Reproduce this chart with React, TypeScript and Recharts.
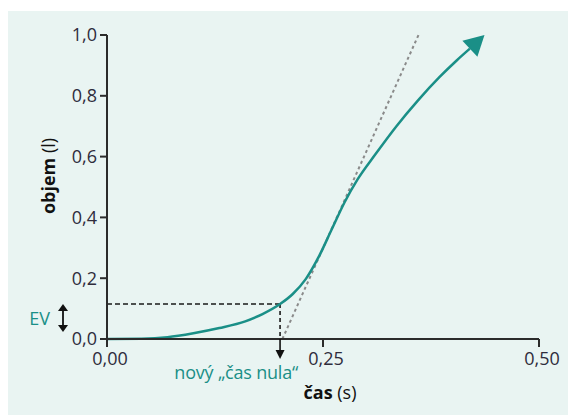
import React from 'react';
import {
  LineChart,
  Line,
  XAxis,
  YAxis,
  ReferenceLine,
  ReferenceDot,
  ReferenceArea,
  Label,
} from 'recharts';

// expired volume curve (time in s, volume in l)
const TIME = [0, 0.04, 0.07, 0.1, 0.13, 0.16, 0.18, 0.2003, 0.215, 0.23, 0.245, 0.26, 0.275, 0.29, 0.31, 0.335, 0.36, 0.385, 0.405, 0.42];
const VOLUME = [0, 0.001, 0.006, 0.019, 0.036, 0.058, 0.082, 0.115, 0.148, 0.197, 0.27, 0.36, 0.45, 0.525, 0.605, 0.7, 0.785, 0.862, 0.917, 0.955];

// back-extrapolation line through the steepest part of the curve
const TANGENT_T = [0.203, 0.3605];
const TANGENT_V = [0, 1];

const EV = 0.115; // extrapolated volume
const T_ZERO = 0.2003; // new "time zero"

const X_TICKS = [0, 0.25, 0.5];
const Y_TICKS = [0, 0.2, 0.4, 0.6, 0.8, 1.0];

const TEAL = '#1a8f87';
const INK = '#2f2c3c';
const AXIS = '#2b2b2b';
const FONT = '"Open Sans", sans-serif';

const data = TIME.map((t, i) => ({ t, v: VOLUME[i] }));
const last = data[data.length - 1];

const ArrowHead = ({ cx, cy }: any) => {
  const a = (-43 * Math.PI) / 180;
  const len = 20;
  const half = 11;
  const tip = [cx + len * Math.cos(a), cy + len * Math.sin(a)];
  const p1 = [cx - half * Math.sin(a), cy + half * Math.cos(a)];
  const p2 = [cx + half * Math.sin(a), cy - half * Math.cos(a)];
  return <polygon points={`${tip.join(',')} ${p1.join(',')} ${p2.join(',')}`} fill={TEAL} />;
};

const TimeZeroMarker = ({ cx, cy }: any) => (
  <g>
    <line x1={cx} y1={cy} x2={cx} y2={cy + 13} stroke="#111" strokeWidth={1.6} />
    <polygon points={`${cx - 4.5},${cy + 11} ${cx + 4.5},${cy + 11} ${cx},${cy + 20}`} fill="#111" />
    <text x={cx + 18} y={cy + 40} textAnchor="end" fill={TEAL} fontSize={18} fontFamily={FONT} letterSpacing={-0.2}>
      nový „čas nula“
    </text>
  </g>
);

const EvMarker = ({ x, y, height }: any) => {
  const ax = x - 44;
  const top = y;
  const bottom = y + height - 7;
  return (
    <g>
      <line x1={ax} y1={top + 4} x2={ax} y2={bottom - 4} stroke="#111" strokeWidth={1.8} />
      <polygon points={`${ax - 5},${top + 7} ${ax + 5},${top + 7} ${ax},${top}`} fill="#111" />
      <polygon points={`${ax - 5},${bottom - 7} ${ax + 5},${bottom - 7} ${ax},${bottom}`} fill="#111" />
      <text x={x - 57} y={y + height / 2 + 3} textAnchor="end" fill={TEAL} fontSize={18} fontFamily={FONT}>
        EV
      </text>
    </g>
  );
};

const XTitle = ({ viewBox }: any) => (
  <text x={viewBox.x + viewBox.width / 2 + 7} y={viewBox.y + 60} textAnchor="middle" fill="#111" fontSize={18} fontFamily={FONT}>
    <tspan fontWeight="bold">čas</tspan> (s)
  </text>
);

const YTitle = ({ viewBox }: any) => {
  const x = 47;
  const y = viewBox.y + 141;
  return (
    <text x={x} y={y} transform={`rotate(-90, ${x}, ${y})`} textAnchor="middle" fill="#111" fontSize={18} fontFamily={FONT}>
      <tspan fontWeight="bold">objem</tspan> (l)
    </text>
  );
};

const tickStyle = { fill: INK, fontSize: 18, fontFamily: FONT };

export default function App() {
  return (
    <div style={{ position: 'absolute', left: 8, top: 11, width: 560, height: 404, background: '#e9f4f2' }}>
      <LineChart width={560} height={404} data={data} margin={{ top: 24, right: 29, bottom: 0, left: 0 }}>
        <XAxis
          dataKey="t"
          type="number"
          domain={[0, 0.5]}
          ticks={X_TICKS}
          tickFormatter={(v: number) => v.toFixed(2).replace('.', ',')}
          tick={{ ...tickStyle, dx: 3 }}
          height={76}
          tickSize={8}
          tickMargin={5}
          axisLine={{ stroke: AXIS, strokeWidth: 2 }}
          tickLine={{ stroke: AXIS, strokeWidth: 2 }}
        >
          <Label content={<XTitle />} />
        </XAxis>
        <YAxis
          type="number"
          domain={[0, 1]}
          ticks={Y_TICKS}
          tickFormatter={(v: number) => v.toFixed(1).replace('.', ',')}
          tick={tickStyle}
          width={99}
          tickSize={7}
          tickMargin={3}
          axisLine={{ stroke: AXIS, strokeWidth: 2 }}
          tickLine={{ stroke: AXIS, strokeWidth: 2 }}
        >
          <Label content={<YTitle />} />
        </YAxis>
        <ReferenceLine
          segment={[
            { x: TANGENT_T[0], y: TANGENT_V[0] },
            { x: TANGENT_T[1], y: TANGENT_V[1] },
          ]}
          stroke="#8a8a8a"
          strokeWidth={2}
          strokeDasharray="3 3"
        />
        <ReferenceLine
          segment={[
            { x: 0, y: EV },
            { x: T_ZERO, y: EV },
          ]}
          stroke="#1a1a1a"
          strokeWidth={1.6}
          strokeDasharray="5 3"
        />
        <ReferenceLine
          segment={[
            { x: T_ZERO, y: EV },
            { x: T_ZERO, y: 0 },
          ]}
          stroke="#1a1a1a"
          strokeWidth={1.6}
          strokeDasharray="4 3"
        />
        <ReferenceArea y1={0} y2={EV} ifOverflow="visible" shape={<EvMarker />} />
        <Line
          dataKey="v"
          type="monotone"
          stroke={TEAL}
          strokeWidth={2.5}
          dot={false}
          isAnimationActive={false}
        />
        <ReferenceDot x={T_ZERO} y={0} ifOverflow="visible" shape={<TimeZeroMarker />} />
        <ReferenceDot x={last.t} y={last.v} ifOverflow="visible" shape={<ArrowHead />} />
      </LineChart>
    </div>
  );
}
